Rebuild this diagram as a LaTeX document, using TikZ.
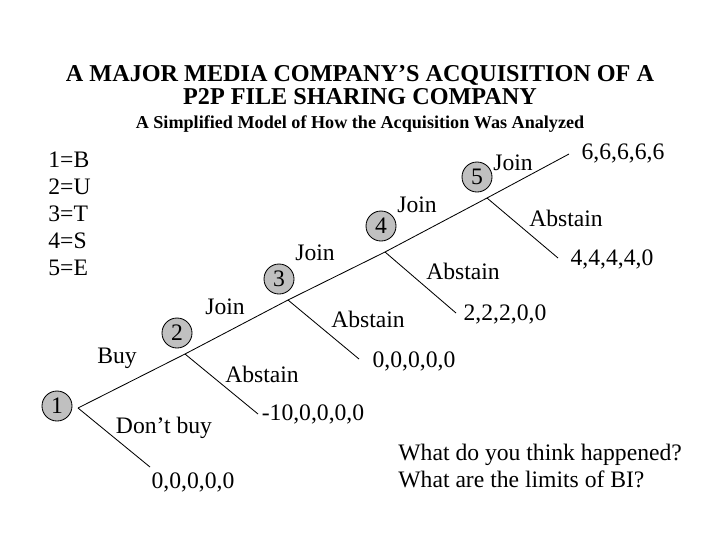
\documentclass[tikz,border=0pt]{standalone}
\usepackage{fontspec}
\setmainfont{Liberation Serif}
\usetikzlibrary{positioning}
\definecolor{nodegray}{RGB}{192,192,192}

\begin{document}
\begin{tikzpicture}[x=0.025cm,y=-0.025cm,line width=0.6pt,
  every node/.style={font=\fontsize{16.8}{19.2}\selectfont},
  player/.style={circle,draw,fill=nodegray,inner sep=0pt,minimum size=0.75cm}] 
 \useasboundingbox (0,0) rectangle (720,540);
 \node[font=\fontsize{17.2}{16.4}\selectfont\bfseries,align=center] (title) at (360,85.5) {A MAJOR MEDIA COMPANY'S ACQUISITION OF A\\ P2P FILE SHARING COMPANY};
 \node[font=\fontsize{12.9}{14}\selectfont\bfseries] (subtitle) at (360,124) {A Simplified Model of How the Acquisition Was Analyzed};
 \node[align=left,anchor=west,inner sep=0pt] (key) at (48,214) {1=B\\ 2=U\\ 3=T\\ 4=S\\ 5=E};
 \coordinate (v_1) at (78,408);
 \coordinate (v_2) at (185,354);
 \coordinate (v_3) at (288,300);
 \coordinate (v_4) at (385,252);
 \coordinate (v_5) at (487,198);
 \coordinate (e_1) at (150,467);
 \coordinate (e_2) at (258,414);
 \coordinate (e_3) at (359,359);
 \coordinate (e_4) at (456,313);
 \coordinate (e_5) at (558,258);
 \coordinate (e_6) at (569,154);
 \node[player] (p_1) at (57,406) {1};
 \node[player] (p_2) at (177,333) {2};
 \node[player] (p_3) at (279,279) {3};
 \node[player] (p_4) at (381,226) {4};
 \node[player] (p_5) at (477,177) {5};
 \path
 (v_1) edge (v_2) edge (e_1)
 (v_2) edge (v_3) edge (e_2)
 (v_3) edge (v_4) edge (e_3)
 (v_4) edge (v_5) edge (e_4)
 (v_5) edge (e_6) edge (e_5);
 \node (buy) at (117,358) {Buy};
 \node (dontbuy) at (164,428) {Don't buy};
 \node (join_2) at (225,307) {Join};
 \node (abstain_2) at (262,374) {Abstain};
 \node (join_3) at (315,253) {Join};
 \node (abstain_3) at (368,319) {Abstain};
 \node (join_4) at (417,205) {Join};
 \node (abstain_4) at (463,271) {Abstain};
 \node (join_5) at (513,163) {Join};
 \node (abstain_5) at (566,218) {Abstain};
 \node (pay_1) at (193,482) {0,0,0,0,0};
 \node (pay_2) at (313,414) {-10,0,0,0,0};
 \node (pay_3) at (414,361) {0,0,0,0,0};
 \node (pay_4) at (505,314) {2,2,2,0,0};
 \node (pay_5) at (612,259) {4,4,4,4,0};
 \node (pay_6) at (623,153) {6,6,6,6,6};
 \node[align=left,anchor=west,inner sep=0pt] (question) at (398,466) {What do you think happened?\\ What are the limits of BI?};
\end{tikzpicture}
\end{document}
